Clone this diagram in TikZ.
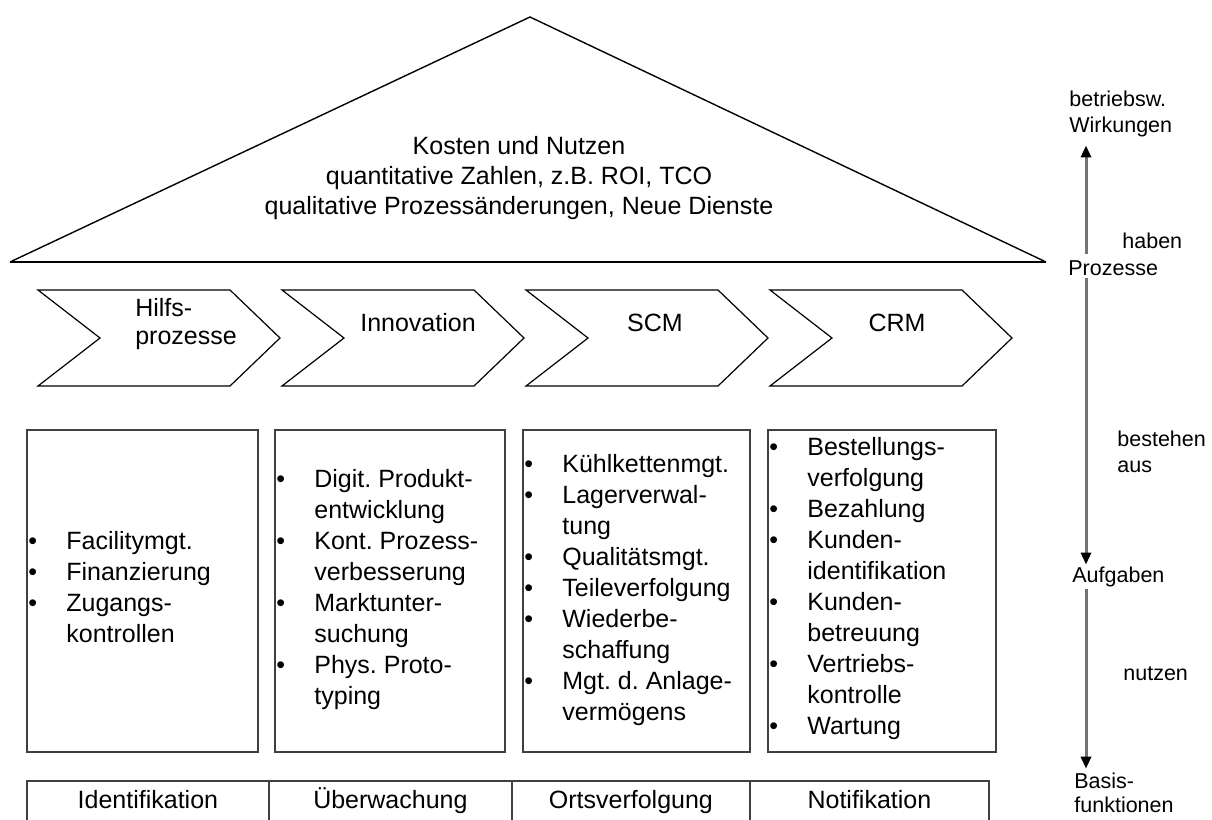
\documentclass[tikz,border=0pt]{standalone}
\usepackage{fontspec}
\setmainfont{Liberation Sans}
\usetikzlibrary{arrows.meta}
\frenchspacing

\tikzset{
  haus/.style={line width=0.7pt},
  prozess/.style={draw,line width=0.6pt},
  plabel/.style={align=left,inner sep=0pt,font=\fontsize{12.5}{14}\selectfont},
  aufgabe/.style={draw=black!75,line width=0.9pt,minimum height=161pt,anchor=north west,inner sep=0pt},
  liste/.style={anchor=west,inner sep=0pt,font=\fontsize{12.5}{15.5}\selectfont},
  basis/.style={draw=black!75,line width=0.9pt,minimum height=21pt,anchor=north west,inner sep=0pt,
    font=\fontsize{12.5}{15}\selectfont,text height=9pt,text depth=2.5pt},
  ebene/.style={anchor=west,align=left,inner sep=1pt,font=\fontsize{10.75}{13}\selectfont},
  fluss/.style={draw=black!55,line width=1.5pt,-{Triangle[width=5pt,length=6pt,color=black]}}
}
\newcommand{\pkt}{\textbullet}
\newenvironment{punkte}{\begin{tabular}{@{}p{19pt}@{}l@{}}}{\end{tabular}}

\begin{document}
\begin{tikzpicture}[x=0.5pt,y=-0.5pt]
  \useasboundingbox (0,0) rectangle (1212,820);
  \clip (0,0) rectangle (1212,820);
  % Dach
  \draw[haus] (10,262) -- (530,17) -- (1046,262);
  \draw[line width=1.1pt] (10,262) -- (1046,262);
  \node[align=center,inner sep=0pt,font=\fontsize{12.5}{15}\selectfont] (kosten) at (519,178)
    {Kosten und Nutzen\\quantitative Zahlen, z.B. ROI, TCO\\qualitative Prozess\"anderungen, Neue Dienste};

  % Prozesse
  \foreach \x in {38,282,526,770}
    \draw[prozess] (\x,290) -- ++(192,0) -- ++(50,48) -- ++(-50,48) -- ++(-192,0) -- ++(62,-48) -- cycle;
  \node[plabel] (p1) at (186,324) {Hilfs-\\prozesse};
  \node[plabel] (p2) at (418,323) {Innovation};
  \node[plabel] (p3) at (655,323) {SCM};
  \node[plabel] (p4) at (897,323) {CRM};

  % Aufgaben
  \node[aufgabe,minimum width=115.5pt] (a1) at (26,429) {};
  \node[aufgabe,minimum width=115pt] (a2) at (274,429) {};
  \node[aufgabe,minimum width=113.5pt] (a3) at (522,429) {};
  \node[aufgabe,minimum width=114pt] (a4) at (767,429) {};

  \node[liste] (l1) at (28,590) {\begin{punkte}
    \pkt & Facilitymgt.\\
    \pkt & Finanzierung\\
    \pkt & Zugangs-\\
         & kontrollen
  \end{punkte}};
  \node[liste] (l2) at (276,590) {\begin{punkte}
    \pkt & Digit. Produkt-\\
         & entwicklung\\
    \pkt & Kont. Prozess-\\
         & verbesserung\\
    \pkt & Marktunter-\\
         & suchung\\
    \pkt & Phys. Proto-\\
         & typing
  \end{punkte}};
  \node[liste] (l3) at (524,590) {\begin{punkte}
    \pkt & K\"uhlkettenmgt.\\
    \pkt & Lagerverwal-\\
         & tung\\
    \pkt & Qualit\"atsmgt.\\
    \pkt & Teileverfolgung\\
    \pkt & Wiederbe-\\
         & schaffung\\
    \pkt & Mgt. d. Anlage-\\
         & verm\"ogens
  \end{punkte}};
  \node[liste] (l4) at (769,589) {\begin{punkte}
    \pkt & Bestellungs-\\
         & verfolgung\\
    \pkt & Bezahlung\\
    \pkt & Kunden-\\
         & identifikation\\
    \pkt & Kunden-\\
         & betreuung\\
    \pkt & Vertriebs-\\
         & kontrolle\\
    \pkt & Wartung
  \end{punkte}};

  % Basisfunktionen
  \node[basis,minimum width=121pt] (b1) at (26,780) {Identifikation};
  \node[basis,minimum width=121.5pt] (b2) at (268,780) {\"Uberwachung};
  \node[basis,minimum width=119pt] (b3) at (511,780) {Ortsverfolgung};
  \node[basis,minimum width=119.5pt] (b4) at (749,780) {Notifikation};

  % Ebenen rechts
  \coordinate (ax) at (1086,0);
  \node[ebene] (wirk) at (1067,114) {betriebsw.\\Wirkungen};
  \node[ebene] (haben) at (1120,241) {haben};
  \node[ebene] (prozesse) at (1066,268) {Prozesse};
  \node[ebene] (bestehen) at (1115,452) {bestehen\\aus};
  \node[ebene] (aufgaben) at (1070,577) {Aufgaben};
  \node[ebene] (nutzen) at (1121,674) {nutzen};
  \node[ebene,font=\fontsize{10.75}{12}\selectfont] (basis) at (1072,793) {Basis-\\funktionen};
  \draw[fluss] ([yshift=2pt]prozesse.north -| ax) -- ([yshift=-3pt]wirk.south -| ax);
  \draw[fluss] (prozesse.south -| ax) -- (aufgaben.north -| ax);
  \draw[fluss] (aufgaben.south -| ax) -- ([yshift=1pt]basis.north -| ax);
\end{tikzpicture}
\end{document}
